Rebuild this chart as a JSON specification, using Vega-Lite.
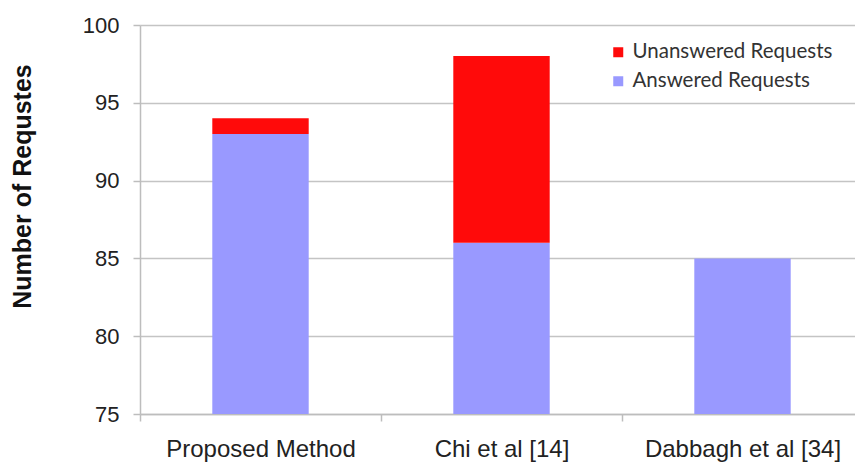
{
  "$schema": "https://vega.github.io/schema/vega-lite/v6.json",
  "width": 723,
  "height": 389,
  "autosize": {"type": "none"},
  "padding": {"left": 140, "top": 25, "right": 0, "bottom": 50},
  "background": "white",
  "data": {
    "values": [
      {"method": "Proposed Method", "status": "Answered Requests", "count": 93},
      {"method": "Proposed Method", "status": "Unanswered Requests", "count": 1},
      {"method": "Chi et al [14]", "status": "Answered Requests", "count": 86},
      {"method": "Chi et al [14]", "status": "Unanswered Requests", "count": 12},
      {"method": "Dabbagh et al [34]", "status": "Answered Requests", "count": 85},
      {"method": "Dabbagh et al [34]", "status": "Unanswered Requests", "count": 0}
    ]
  },
  "mark": {"type": "bar", "clip": true, "width": {"band": 0.4}},
  "encoding": {
    "x": {
      "field": "method",
      "type": "nominal",
      "sort": null,
      "scale": {"paddingInner": 0, "paddingOuter": 0},
      "axis": {
        "title": null,
        "labelAngle": 0,
        "labelFont": "Liberation Sans",
        "labelFontSize": 24,
        "labelColor": "#222222",
        "labelPadding": 16,
        "labelLimit": 0,
        "tickBand": "extent",
        "tickSize": 7,
        "tickColor": "#bdbdbd",
        "tickWidth": 1.5,
        "domainColor": "#bdbdbd",
        "domainWidth": 1.5,
        "grid": false
      }
    },
    "y": {
      "field": "count",
      "type": "quantitative",
      "stack": "zero",
      "scale": {"domain": [75, 100], "nice": false, "zero": false},
      "axis": {
        "title": "Number of Requstes",
        "titleFont": "Liberation Sans",
        "titleFontSize": 25,
        "titleFontWeight": "bold",
        "titleColor": "#111111",
        "titleAngle": 270,
        "titleAlign": "center",
        "titleBaseline": "middle",
        "titleX": -118,
        "titleY": 161,
        "values": [75, 80, 85, 90, 95, 100],
        "labelFont": "Liberation Sans",
        "labelFontSize": 22,
        "labelColor": "#222222",
        "labelPadding": 14,
        "tickSize": 7,
        "tickColor": "#bdbdbd",
        "tickWidth": 1.5,
        "domainColor": "#bdbdbd",
        "domainWidth": 1.5,
        "grid": true,
        "gridColor": "#c4c4c4",
        "gridWidth": 1.5
      }
    },
    "color": {
      "field": "status",
      "type": "nominal",
      "sort": "descending",
      "scale": {
        "domain": ["Unanswered Requests", "Answered Requests"],
        "range": ["#ff0a0a", "#9999ff"]
      },
      "legend": {
        "title": null,
        "orient": "none",
        "legendX": 468,
        "legendY": 17,
        "symbolType": "square",
        "symbolSize": 100,
        "symbolStrokeWidth": 0,
        "labelFont": "Lato",
        "labelFontSize": 20.5,
        "labelColor": "#333333",
        "labelOffset": 4,
        "labelLimit": 0,
        "rowPadding": 8,
        "padding": 0
      }
    },
    "order": {"field": "status", "sort": "ascending"}
  },
  "config": {
    "view": {"stroke": null}
  }
}
